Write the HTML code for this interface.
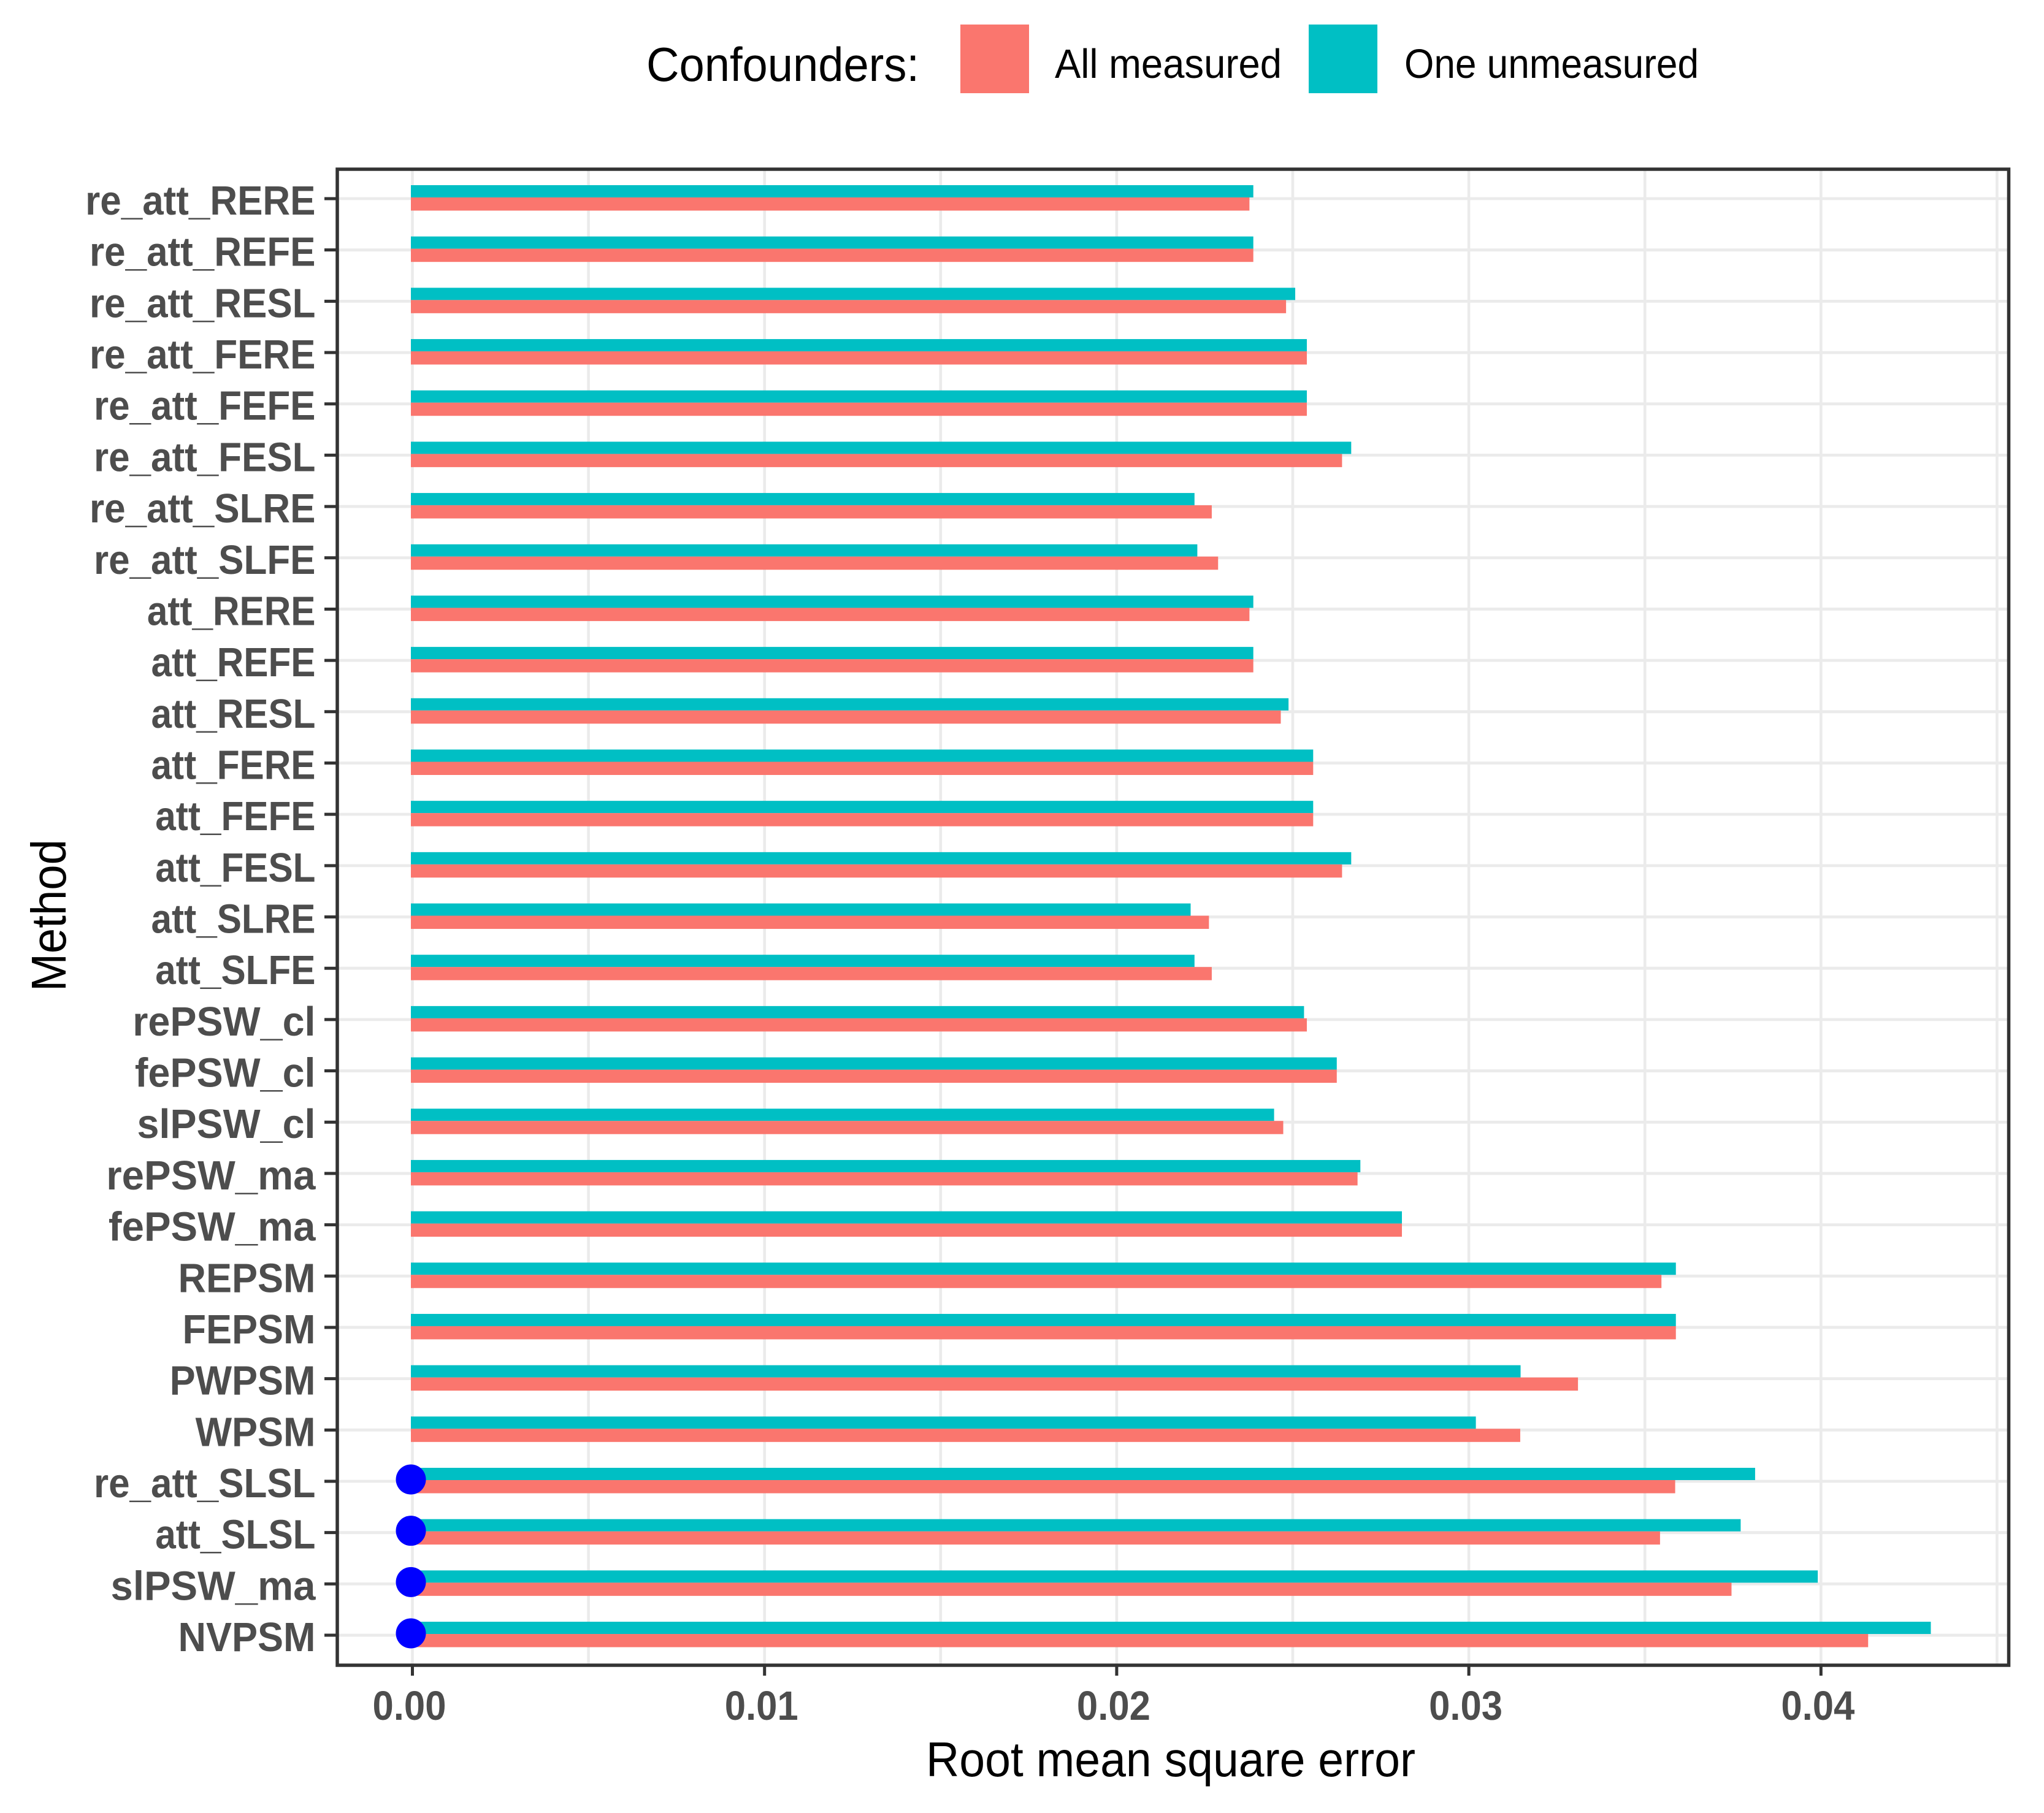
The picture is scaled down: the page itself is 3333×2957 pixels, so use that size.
<!DOCTYPE html>
<html lang="en">
<head>
<meta charset="utf-8">
<title>Root mean square error by method</title>
<style>
html,body{margin:0;padding:0;background:#fff;}
svg{display:block;}
text{font-family:"Liberation Sans",Arial,sans-serif;}
</style>
</head>
<body>
<svg id="chart" xmlns="http://www.w3.org/2000/svg" width="3333" height="2957" viewBox="0 0 3333 2957">
  <rect x="0" y="0" width="3333" height="2957" fill="#ffffff"/>
  <g id="plot"></g>
  <text x="1054" y="132" font-size="78" textLength="445" lengthAdjust="spacingAndGlyphs" fill="#000">Confounders:</text>
  <rect x="1566" y="40" width="112" height="112" fill="#FA766E"/>
  <text x="1720" y="127" font-size="67" textLength="370" lengthAdjust="spacingAndGlyphs" fill="#000">All measured</text>
  <rect x="2134" y="40" width="112" height="112" fill="#00BFC4"/>
  <text x="2290" y="127" font-size="67" textLength="480" lengthAdjust="spacingAndGlyphs" fill="#000">One unmeasured</text>
  <text x="1510" y="2897" font-size="80" textLength="798" lengthAdjust="spacingAndGlyphs" fill="#000">Root mean square error</text>
  <text transform="translate(107,1617) rotate(-90)" x="0" y="0" font-size="80" textLength="248" lengthAdjust="spacingAndGlyphs" fill="#000">Method</text>
</svg>
<script>
const categories = ["re_att_RERE","re_att_REFE","re_att_RESL","re_att_FERE","re_att_FEFE","re_att_FESL","re_att_SLRE","re_att_SLFE","att_RERE","att_REFE","att_RESL","att_FERE","att_FEFE","att_FESL","att_SLRE","att_SLFE","rePSW_cl","fePSW_cl","slPSW_cl","rePSW_ma","fePSW_ma","REPSM","FEPSM","PWPSM","WPSM","re_att_SLSL","att_SLSL","slPSW_ma","NVPSM"];
const oneUnmeasured = [0.02388,0.02388,0.02507,0.02540,0.02540,0.02666,0.02221,0.02229,0.02388,0.02388,0.02488,0.02558,0.02558,0.02666,0.02210,0.02221,0.02532,0.02625,0.02447,0.02692,0.02810,0.03588,0.03588,0.03147,0.03020,0.03813,0.03772,0.03991,0.04312];
const allMeasured = [0.02377,0.02388,0.02481,0.02540,0.02540,0.02640,0.02270,0.02288,0.02377,0.02388,0.02466,0.02558,0.02558,0.02640,0.02262,0.02270,0.02540,0.02625,0.02473,0.02684,0.02810,0.03547,0.03588,0.03310,0.03146,0.03586,0.03543,0.03746,0.04134];
const markerCategories = ["re_att_SLSL","att_SLSL","slPSW_ma","NVPSM"];
const markerValues = [0,0,0,0];
const xMajorTicks = [0,0.01,0.02,0.03,0.04];
const xTickLabels = ["0.00","0.01","0.02","0.03","0.04"];
const xMinorTicks = [0.005,0.015,0.025,0.035,0.045];

const NS = "http://www.w3.org/2000/svg";
const plot = document.getElementById("plot");
const panel = {left:550, right:3275.5, top:276, bottom:2716};
function x(v){ return 672.5 + 57420 * v; }
function y(i){ return 324 + 83.68 * i; }
function labelStretch(name){
  if (name.indexOf("PSW_ma") >= 0) return 0.975;
  if (name.indexOf("PSW_cl") >= 0) return 0.965;
  if (name.indexOf("re_att") === 0) return 0.925;
  if (name.indexOf("att_") === 0) return 0.90;
  return 0.94;
}
function make(tag, attrs){
  const el = document.createElementNS(NS, tag);
  for (const k in attrs) el.setAttribute(k, attrs[k]);
  plot.appendChild(el);
  return el;
}
const GRID = "#EBEBEB", DARK = "#333333", TEXT = "#4D4D4D";

xMinorTicks.forEach(function(t){
  const el = make("line", {x1:x(t), x2:x(t), y1:panel.top, y2:panel.bottom, stroke:GRID, "stroke-width":4.6});
  
  
});
xMajorTicks.forEach(function(t){
  const el = make("line", {x1:x(t), x2:x(t), y1:panel.top, y2:panel.bottom, stroke:GRID, "stroke-width":4.6});
  
  
});
categories.forEach(function(c, i){
  const el = make("line", {x1:panel.left, x2:panel.right, y1:y(i), y2:y(i), stroke:GRID, "stroke-width":4.8});
  
  
});

const barStart = x(0) - 2.5;
categories.forEach(function(c, i){
  const teal = make("rect", {x:barStart, y:y(i)-22, width:x(oneUnmeasured[i])-barStart, height:20, fill:"#00BFC4"});
  
  
  const red = make("rect", {x:barStart, y:y(i)-2, width:x(allMeasured[i])-barStart, height:21.5, fill:"#FA766E"});
  
  
});

markerCategories.forEach(function(c, k){
  const i = categories.indexOf(c);
  const dot = make("circle", {cx:x(markerValues[k])-2.5, cy:y(i)-3, r:24.5, fill:"#0000FF"});
  
  
});

const border = make("rect", {x:panel.left, y:panel.top, width:panel.right-panel.left, height:panel.bottom-panel.top, fill:"none", stroke:DARK, "stroke-width":5.5});



categories.forEach(function(c, i){
  const tick = make("line", {x1:529, x2:panel.left, y1:y(i), y2:y(i), stroke:DARK, "stroke-width":5});
  
  
  const label = make("text", {transform:"translate(514.5," + (y(i)+26) + ") scale(" + labelStretch(c) + ",1)", "text-anchor":"end", "font-size":67, "font-weight":"bold", fill:TEXT});
  label.textContent = c;
  
  
});

xMajorTicks.forEach(function(t, k){
  const tick = make("line", {x1:x(t), x2:x(t), y1:panel.bottom, y2:2733, stroke:DARK, "stroke-width":5});
  
  
  const label = make("text", {transform:"translate(" + (x(t)-5) + ",2805) scale(0.92,1)", "text-anchor":"middle", "font-size":67, "font-weight":"bold", fill:TEXT});
  label.textContent = xTickLabels[k];
  
  
});
</script>
</body>
</html>
